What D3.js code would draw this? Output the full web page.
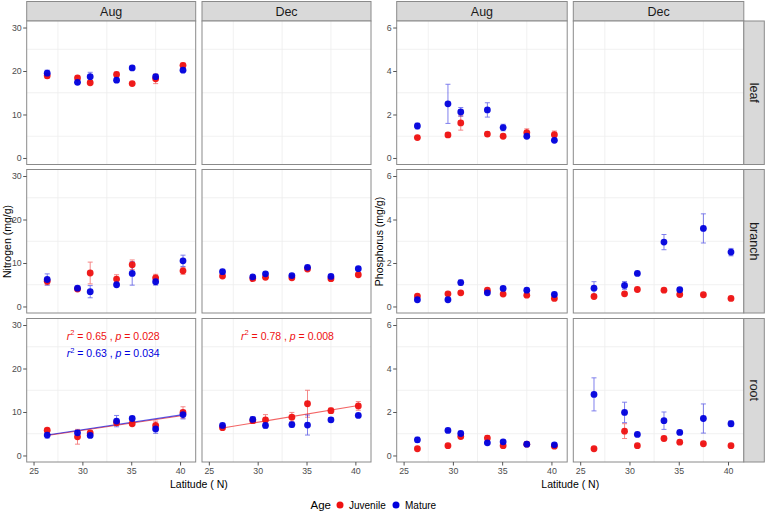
<!DOCTYPE html>
<html><head><meta charset="utf-8">
<script src="https://cdn.jsdelivr.net/npm/d3@7"></script>
<style>body{margin:0;background:#fff}svg{display:block;font-family:"Liberation Sans",Arial,sans-serif}</style>
</head><body><svg id="c" width="766" height="514"></svg>
<script>
// ---------- data ----------
const latitudes = [26.4, 29.5, 30.8, 33.5, 35.1, 37.5, 40.3];
const months = ["Aug", "Dec"];
const tissues = ["leaf", "branch", "root"];
const ageGroups = ["Juvenile", "Mature"];
const nTicks = [0, 10, 20, 30];
const pTicks = [0, 2, 4, 6];
const xTicks = [25, 30, 35, 40];

// Nitrogen (mg/g) means and error
const nLeafAugJuv = [18.9, 18.4, 17.3, 19.2, 17.1, 18.2, 21.3];
const nLeafAugJuvErr = [0.6, 0.4, 0.3, 0.5, 0.3, 1.1, 0.5];
const nLeafAugMat = [19.5, 17.4, 18.7, 17.9, 20.7, 18.7, 20.2];
const nLeafAugMatErr = [0.7, 0.4, 1.0, 0.5, 0.3, 0.5, 0.3];
const nBranchAugJuv = [5.8, 4.0, 7.7, 6.3, 9.6, 6.6, 8.2];
const nBranchAugJuvErr = [0.8, 0.3, 2.5, 1.0, 1.1, 0.8, 0.8];
const nBranchAugMat = [6.2, 4.2, 3.4, 5.0, 7.6, 5.7, 10.5];
const nBranchAugMatErr = [1.3, 0.3, 1.4, 0.3, 2.7, 0.8, 1.3];
const nBranchDecJuv = [7.0, 6.4, 6.7, 6.6, 8.6, 6.4, 7.3];
const nBranchDecJuvErr = [0.3, 0.3, 0.3, 0.3, 0.3, 0.4, 0.3];
const nBranchDecMat = [8.0, 6.8, 7.5, 7.1, 9.0, 6.9, 8.7];
const nBranchDecMatErr = [0.3, 0.3, 0.3, 0.3, 0.4, 0.4, 0.3];
const nRootAugJuv = [5.8, 4.3, 5.2, 7.5, 7.3, 6.9, 9.9];
const nRootAugJuvErr = [0.4, 1.7, 0.4, 0.5, 0.4, 1.0, 1.3];
const nRootAugMat = [4.7, 5.2, 4.6, 7.9, 8.5, 6.1, 9.4];
const nRootAugMatErr = [0.7, 0.6, 0.4, 1.3, 0.4, 1.0, 1.0];
const nRootDecJuv = [6.4, 8.0, 8.2, 8.8, 11.9, 10.3, 11.4];
const nRootDecJuvErr = [0.3, 0.6, 1.2, 1.1, 3.1, 0.6, 1.0];
const nRootDecMat = [6.9, 8.3, 6.9, 7.1, 7.0, 8.2, 9.2];
const nRootDecMatErr = [0.3, 0.6, 0.6, 0.6, 2.3, 0.5, 0.3];

// Phosphorus (mg/g) means and error
const pLeafAugJuv = [0.94, 1.06, 1.61, 1.10, 1.00, 1.17, 1.07];
const pLeafAugJuvErr = [0.05, 0.10, 0.33, 0.10, 0.05, 0.17, 0.17];
const pLeafAugMat = [1.47, 2.49, 2.12, 2.21, 1.40, 1.00, 0.81];
const pLeafAugMatErr = [0.13, 0.90, 0.20, 0.33, 0.15, 0.05, 0.05];
const pBranchAugJuv = [0.48, 0.58, 0.63, 0.75, 0.57, 0.52, 0.37];
const pBranchAugJuvErr = [0.05, 0.05, 0.05, 0.05, 0.05, 0.05, 0.05];
const pBranchAugMat = [0.31, 0.31, 1.10, 0.63, 0.83, 0.75, 0.55];
const pBranchAugMatErr = [0.05, 0.03, 0.12, 0.05, 0.08, 0.05, 0.05];
const pBranchDecJuv = [0.46, 0.58, 0.78, 0.75, 0.55, 0.54, 0.37];
const pBranchDecJuvErr = [0.03, 0.05, 0.08, 0.05, 0.05, 0.03, 0.03];
const pBranchDecMat = [0.84, 0.97, 1.52, 2.96, 0.77, 3.59, 2.50];
const pBranchDecMatErr = [0.30, 0.18, 0.05, 0.35, 0.05, 0.67, 0.17];
const pRootAugJuv = [0.31, 0.45, 0.87, 0.80, 0.45, 0.52, 0.43];
const pRootAugJuvErr = [0.03, 0.03, 0.08, 0.12, 0.05, 0.03, 0.05];
const pRootAugMat = [0.72, 1.15, 1.01, 0.58, 0.63, 0.52, 0.49];
const pRootAugMatErr = [0.12, 0.05, 0.10, 0.05, 0.05, 0.05, 0.05];
const pRootDecJuv = [0.31, 1.12, 0.45, 0.78, 0.61, 0.54, 0.45];
const pRootDecJuvErr = [0.03, 0.34, 0.03, 0.10, 0.05, 0.03, 0.03];
const pRootDecMat = [2.81, 1.98, 0.97, 1.60, 1.06, 1.70, 1.46];
const pRootDecMatErr = [0.76, 0.47, 0.05, 0.40, 0.05, 0.67, 0.13];

// regression fits (value at first and last latitude)
const fitLat = [26.4, 40.3];
const nRootAugJuvFit = [4.6, 9.2];
const nRootAugMatFit = [4.7, 9.4];
const nRootDecJuvFit = [6.3, 11.5];
const fitLabels = [
  {panel: "Aug", age: "Juvenile", r2: "0.65", p: "0.028"},
  {panel: "Aug", age: "Mature", r2: "0.63", p: "0.034"},
  {panel: "Dec", age: "Juvenile", r2: "0.78", p: "0.008"}
];

// ---------- assemble ----------
const colors = {Juvenile: "#ee1111", Mature: "#0000dd"};
const pair = (m, e) => m.map((v, i) => ({lat: latitudes[i], v, e: e[i]}));
const nData = {
  leaf:   {Aug: {Juvenile: pair(nLeafAugJuv, nLeafAugJuvErr), Mature: pair(nLeafAugMat, nLeafAugMatErr)}, Dec: null},
  branch: {Aug: {Juvenile: pair(nBranchAugJuv, nBranchAugJuvErr), Mature: pair(nBranchAugMat, nBranchAugMatErr)},
           Dec: {Juvenile: pair(nBranchDecJuv, nBranchDecJuvErr), Mature: pair(nBranchDecMat, nBranchDecMatErr)}},
  root:   {Aug: {Juvenile: pair(nRootAugJuv, nRootAugJuvErr), Mature: pair(nRootAugMat, nRootAugMatErr)},
           Dec: {Juvenile: pair(nRootDecJuv, nRootDecJuvErr), Mature: pair(nRootDecMat, nRootDecMatErr)}}
};
const pData = {
  leaf:   {Aug: {Juvenile: pair(pLeafAugJuv, pLeafAugJuvErr), Mature: pair(pLeafAugMat, pLeafAugMatErr)}, Dec: null},
  branch: {Aug: {Juvenile: pair(pBranchAugJuv, pBranchAugJuvErr), Mature: pair(pBranchAugMat, pBranchAugMatErr)},
           Dec: {Juvenile: pair(pBranchDecJuv, pBranchDecJuvErr), Mature: pair(pBranchDecMat, pBranchDecMatErr)}},
  root:   {Aug: {Juvenile: pair(pRootAugJuv, pRootAugJuvErr), Mature: pair(pRootAugMat, pRootAugMatErr)},
           Dec: {Juvenile: pair(pRootDecJuv, pRootDecJuvErr), Mature: pair(pRootDecMat, pRootDecMatErr)}}
};
const nFits = {Aug: [{age: "Juvenile", v: nRootAugJuvFit}, {age: "Mature", v: nRootAugMatFit}],
               Dec: [{age: "Juvenile", v: nRootDecJuvFit}]};

// ---------- layout ----------
const svg = d3.select("#c");
const rowTop = [21, 169.5, 318.5], rowH = 143.5;
const stripTop = 1.5;
const borderCol = "#8a8a8a", stripFill = "#d9d9d9", gridCol = "#eeeeee";

function drawGroup(g) {
  const {lefts, w, data, yDomain, yTicks, yMinor, fits, rightStrip, yTitle, yTitleX} = g;
  months.forEach((m, ci) => {
    const x0 = lefts[ci];
    const x = d3.scaleLinear().domain([24.3, 41.6]).range([x0, x0 + w]);
    svg.append("rect").attr("x", x0).attr("y", stripTop).attr("width", w).attr("height", rowTop[0] - stripTop)
      .attr("fill", stripFill).attr("stroke", borderCol).attr("stroke-width", 1);
    svg.append("text").attr("x", x0 + w / 2).attr("y", stripTop + 14.3).attr("text-anchor", "middle")
      .attr("font-size", 12.5).attr("fill", "#1a1a1a").text(m);
    tissues.forEach((t, ri) => {
      const y0 = rowTop[ri];
      const y = d3.scaleLinear().domain(yDomain).range([y0 + rowH, y0]);
      const p = svg.append("g");
      p.append("rect").attr("x", x0).attr("y", y0).attr("width", w).attr("height", rowH).attr("fill", "#fff");
      p.selectAll(null).data([27.5, 32.5, 37.5]).join("line")
        .attr("x1", d => x(d)).attr("x2", d => x(d)).attr("y1", y0).attr("y2", y0 + rowH)
        .attr("stroke", gridCol).attr("stroke-width", 0.8);
      p.selectAll(null).data(yMinor).join("line")
        .attr("y1", d => y(d)).attr("y2", d => y(d)).attr("x1", x0).attr("x2", x0 + w)
        .attr("stroke", gridCol).attr("stroke-width", 0.8);
      const d = data[t][m];
      if (d) {
        if (t === "root" && fits && fits[m]) {
          fits[m].forEach(f => {
            p.append("line").attr("x1", x(fitLat[0])).attr("x2", x(fitLat[1]))
              .attr("y1", y(f.v[0])).attr("y2", y(f.v[1]))
              .attr("stroke", colors[f.age]).attr("stroke-width", 1.1).attr("opacity", 0.65);
          });
        }
        ageGroups.forEach(a => {
          const s = d[a];
          const eb = p.append("g").attr("stroke", colors[a]).attr("stroke-width", 0.9).attr("opacity", 0.55);
          eb.selectAll(null).data(s).join("line")
            .attr("x1", q => x(q.lat)).attr("x2", q => x(q.lat))
            .attr("y1", q => y(q.v - q.e)).attr("y2", q => y(q.v + q.e));
          eb.selectAll(null).data(s).join("line")
            .attr("x1", q => x(q.lat) - 2.5).attr("x2", q => x(q.lat) + 2.5)
            .attr("y1", q => y(q.v + q.e)).attr("y2", q => y(q.v + q.e));
          eb.selectAll(null).data(s).join("line")
            .attr("x1", q => x(q.lat) - 2.5).attr("x2", q => x(q.lat) + 2.5)
            .attr("y1", q => y(q.v - q.e)).attr("y2", q => y(q.v - q.e));
        });
        ageGroups.forEach(a => {
          p.selectAll(null).data(d[a]).join("circle")
            .attr("cx", q => x(q.lat)).attr("cy", q => y(q.v)).attr("r", 3.4)
            .attr("fill", colors[a]).attr("opacity", 0.95);
        });
        if (t === "root" && fits && fits[m]) {
          fitLabels.filter(l => l.panel === m).forEach((l, k) => {
            const tx = p.append("text").attr("x", x0 + w / 2 + (m === "Aug" ? 2 : 1))
              .attr("y", y0 + 21 + k * 17.5).attr("text-anchor", "middle")
              .attr("font-size", 10.5).attr("fill", colors[l.age]);
            tx.append("tspan").attr("font-style", "italic").text("r");
            tx.append("tspan").attr("font-size", 7.5).attr("dy", -4.5).text("2");
            tx.append("tspan").attr("dy", 4.5).text(" = " + l.r2 + " , ");
            tx.append("tspan").attr("font-style", "italic").text("p");
            tx.append("tspan").text(" = " + l.p);
          });
        }
      }
      p.append("rect").attr("x", x0).attr("y", y0).attr("width", w).attr("height", rowH)
        .attr("fill", "none").attr("stroke", borderCol).attr("stroke-width", 1);
      if (ci === 0) {
        const ax = svg.append("g").attr("transform", `translate(${x0},0)`)
          .call(d3.axisLeft(y).tickValues(yTicks).tickFormat(d3.format("d")).tickSize(3.5).tickPadding(1.5));
        ax.select(".domain").remove();
        ax.selectAll("line").attr("stroke", "#555");
        ax.selectAll("text").attr("font-size", 8.8).attr("fill", "#4d4d4d").attr("font-family", "Liberation Sans, Arial, sans-serif");
      }
      if (ri === 2) {
        const ax = svg.append("g").attr("transform", `translate(0,${y0 + rowH})`)
          .call(d3.axisBottom(x).tickValues(xTicks).tickFormat(d3.format("d")).tickSize(3.5).tickPadding(2));
        ax.select(".domain").remove();
        ax.selectAll("line").attr("stroke", "#555");
        ax.selectAll("text").attr("font-size", 8.8).attr("fill", "#4d4d4d").attr("font-family", "Liberation Sans, Arial, sans-serif");
      }
      if (rightStrip && ci === 1) {
        const sx = x0 + w;
        svg.append("rect").attr("x", sx).attr("y", y0).attr("width", 20.5).attr("height", rowH)
          .attr("fill", stripFill).attr("stroke", borderCol).attr("stroke-width", 1);
        svg.append("text").attr("transform", `translate(${sx + 6},${y0 + rowH / 2}) rotate(90)`)
          .attr("text-anchor", "middle").attr("font-size", 12.5).attr("fill", "#1a1a1a").text(t);
      }
    });
  });
  const midY = (rowTop[0] + rowTop[2] + rowH) / 2;
  svg.append("text").attr("transform", `translate(${yTitleX},${midY}) rotate(-90)`)
    .attr("text-anchor", "middle").attr("font-size", 10.5).attr("fill", "#000").text(yTitle);
  svg.append("text").attr("x", (lefts[0] + lefts[1] + w) / 2).attr("y", 488)
    .attr("text-anchor", "middle").attr("font-size", 10.5).attr("fill", "#000").text("Latitude ( N)");
}

drawGroup({lefts: [26.7, 202], w: 169, data: nData, yDomain: [-1.5, 31.5], yTicks: nTicks, yMinor: [5, 15, 25],
  fits: nFits, rightStrip: false, yTitle: "Nitrogen (mg/g)", yTitleX: 10.5});
drawGroup({lefts: [396.7, 573.3], w: 170.5, data: pData, yDomain: [-0.3, 6.3], yTicks: pTicks, yMinor: [1, 3, 5],
  fits: null, rightStrip: true, yTitle: "Phosphorus (mg/g)", yTitleX: 383});

// legend
const lg = svg.append("g");
lg.append("text").attr("x", 331).attr("y", 509).attr("text-anchor", "end").attr("font-size", 11.5).attr("fill", "#000").text("Age");
const legX = [340, 396];
ageGroups.forEach((a, i) => {
  lg.append("circle").attr("cx", legX[i]).attr("cy", 505).attr("r", 3.5).attr("fill", colors[a]);
  lg.append("text").attr("x", legX[i] + 9).attr("y", 508.5).attr("font-size", 10).attr("fill", "#000").text(a);
});
</script></body></html>
